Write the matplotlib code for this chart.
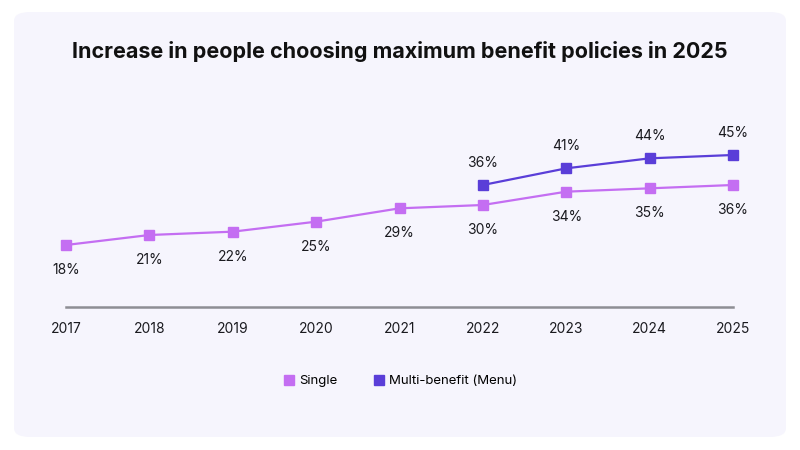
import matplotlib.pyplot as plt
from matplotlib.patches import FancyBboxPatch

years = ["2017", "2018", "2019", "2020", "2021", "2022", "2023", "2024", "2025"]
single = [18, 21, 22, 25, 29, 30, 34, 35, 36]
multi_years = ["2022", "2023", "2024", "2025"]
multi = [36, 41, 44, 45]

SINGLE_COLOR = "#C46EF2"
MULTI_COLOR = "#5A3ED8"
TEXT_COLOR = "#1A1A1F"

plt.rcParams["font.family"] = ["Inter", "DejaVu Sans"]


def main():
    fig = plt.figure(figsize=(8, 4.5), dpi=100)
    fig.patch.set_facecolor("white")

    panel = FancyBboxPatch((14 / 800, 1 - 437 / 450), 772 / 800, 425 / 450,
                           boxstyle="round,pad=0,rounding_size=0.02",
                           transform=fig.transFigure, facecolor="#F6F5FD",
                           edgecolor="none", zorder=-5)
    fig.patches.append(panel)

    fig.text(0.5, 1 - 52 / 450, "Increase in people choosing maximum benefit policies in 2025",
             ha="center", va="center", fontsize=15.5, fontweight="bold",
             color="#111111")

    ax = fig.add_axes([66 / 800, 1 - 307 / 450, 667 / 800, 207 / 450])
    ax.set_facecolor("none")
    ax.set_zorder(2)

    x_single = list(range(len(years)))
    x_multi = [years.index(y) for y in multi_years]

    ax.plot(x_single, single, color=SINGLE_COLOR, lw=1.6, marker="s",
            markersize=7, clip_on=False, zorder=3)
    ax.plot(x_multi, multi, color=MULTI_COLOR, lw=1.6, marker="s",
            markersize=7, clip_on=False, zorder=3)

    for xi, v in zip(x_single, single):
        ax.annotate(f"{v}%", (xi, v), xytext=(0, -18), textcoords="offset points",
                    ha="center", va="center", fontsize=10, color=TEXT_COLOR)
    for xi, v in zip(x_multi, multi):
        ax.annotate(f"{v}%", (xi, v), xytext=(0, 16), textcoords="offset points",
                    ha="center", va="center", fontsize=10, color=TEXT_COLOR)

    ax.set_xlim(0, len(years) - 1)
    ax.set_ylim(-0.6, 61.5)
    ax.set_xticks(x_single)
    ax.set_xticklabels(years, fontsize=10, color=TEXT_COLOR)
    ax.set_yticks([])
    ax.tick_params(axis="x", length=0, pad=11)
    for side in ["top", "right", "left"]:
        ax.spines[side].set_visible(False)
    ax.spines["bottom"].set_color("#8E8E94")
    ax.spines["bottom"].set_linewidth(1.8)

    h1 = plt.Line2D([], [], color=SINGLE_COLOR, marker="s", lw=0, markersize=7)
    h2 = plt.Line2D([], [], color=MULTI_COLOR, marker="s", lw=0, markersize=7)
    fig.legend([h1, h2], ["Single", "Multi-benefit (Menu)"], loc="center",
               bbox_to_anchor=(0.5, 1 - 381 / 450), ncol=2, frameon=False,
               fontsize=9.5, handletextpad=0.3, columnspacing=2.6,
               handlelength=1.0)

    fig.savefig("out.png", dpi=100, facecolor="white")


if __name__ == "__main__":
    main()
